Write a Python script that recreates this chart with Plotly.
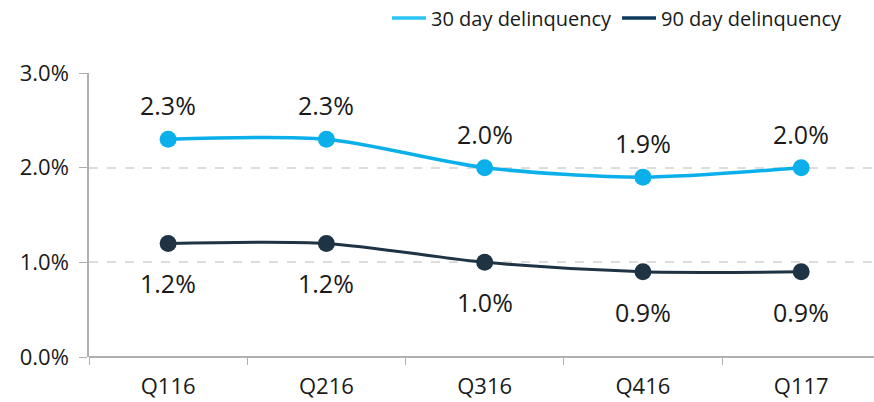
import plotly.graph_objects as go

categories = ["Q116", "Q216", "Q316", "Q416", "Q117"]
delinq_30 = [2.3, 2.3, 2.0, 1.9, 2.0]
delinq_90 = [1.2, 1.2, 1.0, 0.9, 0.9]
series_names = ["30 day delinquency", "90 day delinquency"]
y_ticks = [0, 1, 2, 3]
y_tick_labels = ["0.0%", "1.0%", "2.0%", "3.0%"]

C30 = "#0BB0EA"
C90 = "#1E3343"
C30_LEG = "#2CC4F4"
C90_LEG = "#0D3A5C"
FONT = "Open Sans"

fig = go.Figure()
fig.add_trace(go.Scatter(
    x=categories, y=delinq_30, name=series_names[0], mode="lines+markers",
    line=dict(color=C30, width=3.5, shape="spline", smoothing=0.8),
    marker=dict(size=17, color=C30), showlegend=False,
))
fig.add_trace(go.Scatter(
    x=categories, y=delinq_90, name=series_names[1], mode="lines+markers",
    line=dict(color=C90, width=3, shape="spline", smoothing=0.8),
    marker=dict(size=17, color=C90), showlegend=False,
))
# legend entries (line only)
for nm, col in zip(series_names, [C30_LEG, C90_LEG]):
    fig.add_trace(go.Scatter(x=[None], y=[None], name=nm, mode="lines",
                             line=dict(color=col, width=3.5), showlegend=True))

for c, v in zip(categories, delinq_30):
    fig.add_annotation(x=c, y=v, text=f"{v:.1f}%", showarrow=False, yshift=34,
                       font=dict(size=25, color="#1a1a1a", family=FONT))
for c, v in zip(categories, delinq_90):
    fig.add_annotation(x=c, y=v, text=f"{v:.1f}%", showarrow=False, yshift=-40,
                       font=dict(size=25, color="#1a1a1a", family=FONT))

fig.update_layout(
    width=874, height=402,
    margin=dict(l=89, r=0, t=73, b=45),
    paper_bgcolor="white", plot_bgcolor="white",
    font=dict(family=FONT, color="#1a1a1a"),
    showlegend=True,
    legend=dict(orientation="h", x=(848 - 89) / (874 - 89), xref="paper", xanchor="right",
                y=0.955, yanchor="middle", yref="container",
                font=dict(size=20), itemwidth=34, traceorder="normal",
                bgcolor="rgba(0,0,0,0)"),
    xaxis=dict(
        type="category", range=[-0.5, 4.46], automargin=False,
        showgrid=False, showline=False, zeroline=False,
        ticks="outside", tickson="boundaries", ticklen=7, tickcolor="#b0b0b0",
        tickfont=dict(size=22), ticklabelstandoff=14,
    ),
    yaxis=dict(
        range=[0, 3], tickvals=y_ticks, ticktext=y_tick_labels, automargin=False,
        showgrid=True, gridcolor="#dddddd", griddash="dash", gridwidth=1.5,
        showline=True, linecolor="#b0b0b0", linewidth=1.5,
        ticks="outside", ticklen=8, tickcolor="#b0b0b0",
        zeroline=True, zerolinecolor="#b0b0b0", zerolinewidth=2,
        tickfont=dict(size=22), ticklabelstandoff=6,
    ),
)

fig.write_html("out.html", config={"displayModeBar": False},
               post_script="document.body.style.margin='0';document.body.style.padding='0';")
